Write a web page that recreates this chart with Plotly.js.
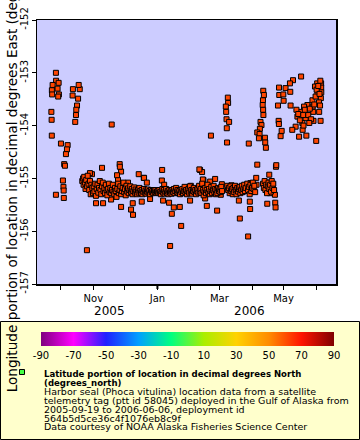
<!DOCTYPE html>
<html><head><meta charset="utf-8">
<script src="https://cdn.plot.ly/plotly-3.0.1.min.js"></script>
<style>html,body{margin:0;padding:0;background:#fff}#chart{width:360px;height:440px}</style>
</head><body><div id="chart"></div>
<script>
// ---- tick labels ----
const monthTicks = ['2005-10-01','2005-11-01','2005-12-01','2006-01-01','2006-02-01','2006-03-01','2006-04-01','2006-05-01','2006-06-01'];
const monthLabels = ['', 'Nov', '', 'Jan', '', 'Mar', '', 'May', ''];
const yearLabels = ['2005', '2006'];
const yearBoundary = '2006-01-01';
const lonTicks = [-152, -153, -154, -155, -156, -157];
const lonTickText = ['-152', '-153', '-154', '-155', '-156', '-157'];
const cbTicks = [-90, -70, -50, -30, -10, 10, 30, 50, 70, 90];
const cbTickText = ['-90', '-70', '-50', '-30', '-10', '10', '30', '50', '70', '90'];
const legendBold = ['Latitude portion of location in decimal degrees North', '(degrees_north)'];
const legendText = ['Harbor seal (Phoca vitulina) location data from a satellite',
  'telemetry tag (ptt id 58045) deployed in the Gulf of Alaska from',
  '2005-09-19 to 2006-06-06, deployment id',
  '564b5d5ce36c4f1076eb8c9f',
  'Data courtesy of NOAA Alaska Fisheries Science Center'];
const yTitle = 'Longitude portion of location in decimal degrees East (degrees_east)';

// ---- data: early structures (Sep-Oct 2005) ----
const earlyTimes = ['2005-09-26 10:00','2005-09-26 14:00','2005-09-29 00:00','2005-09-23 07:00','2005-09-28 00:00','2005-09-22 14:00','2005-09-22 20:00','2005-09-29 06:00','2005-09-28 14:00','2005-09-22 02:00','2005-09-22 08:00','2005-09-22 12:00','2005-09-26 10:00','2005-10-01 05:00','2005-10-07 14:00','2005-10-06 22:00','2005-10-05 23:00','2005-10-04 07:00','2005-10-05 00:00','2005-10-03 02:00','2005-10-03 14:00','2005-10-03 19:00','2005-10-03 22:00','2005-10-12 14:00','2005-10-19 02:00','2005-10-18 02:00','2005-10-12 07:00','2005-10-17 12:00','2005-10-16 12:00','2005-10-15 19:00','2005-10-15 12:00','2005-10-14 19:00','2005-10-25 22:00'];
const earlyLon = [-153.00,-153.15,-153.19,-153.23,-153.30,-153.33,-153.41,-153.41,-153.45,-153.74,-153.89,-154.19,-155.31,-154.34,-154.37,-154.45,-154.54,-154.73,-154.76,-155.04,-155.16,-155.23,-155.37,-153.31,-153.31,-153.23,-153.43,-153.49,-153.62,-153.70,-153.80,-153.93,-156.36];

// ---- data: scattered fixes Nov 2005 - Mar 2006 ----
const midTimes = ['2005-11-18 12:00','2005-11-26 02:00','2005-11-09 07:00','2005-11-27 10:00','2005-11-26 06:00','2005-12-14 05:00','2005-12-19 00:00','2005-10-30 17:00','2005-10-28 19:00','2005-10-25 00:00','2005-11-03 14:00','2005-11-10 07:00','2005-11-17 22:00','2005-11-27 10:00','2005-12-06 22:00','2005-12-08 19:00','2005-12-08 12:00','2005-12-17 02:00','2005-12-04 00:00','2005-11-24 12:00','2005-11-23 14:00','2006-01-05 12:00','2006-02-10 14:00','2006-02-12 12:00','2005-12-19 07:00','2005-12-21 22:00','2006-01-05 05:00','2006-01-07 10:00','2006-02-01 19:00','2006-02-13 19:00','2006-02-20 05:00','2006-02-24 22:00','2006-03-03 07:00','2006-03-12 10:00','2006-03-18 02:00','2005-12-25 00:00','2006-01-06 10:00','2006-01-12 02:00','2006-01-16 14:00','2006-01-22 07:00','2006-01-14 17:00','2006-01-23 14:00','2006-01-13 02:00','2006-02-01 02:00','2006-02-17 00:00','2006-02-26 19:00','2006-03-02 07:00','2006-03-19 12:00','2006-03-20 10:00','2006-02-15 10:00','2006-02-09 22:00','2006-02-13 05:00','2006-02-20 22:00','2006-03-09 00:00','2006-03-09 06:00','2006-03-07 02:00','2006-03-07 10:00','2006-03-07 18:00','2006-03-10 05:00','2006-03-08 00:00','2006-03-08 06:00'];
const midLon = [-153.98,-154.73,-154.80,-154.87,-154.78,-154.92,-154.99,-154.92,-154.90,-155.02,-155.47,-155.47,-155.40,-155.54,-155.59,-155.69,-155.47,-155.44,-155.08,-155.03,-154.94,-154.84,-154.84,-154.88,-154.99,-155.08,-155.04,-155.12,-155.14,-155.03,-155.06,-155.01,-155.11,-155.13,-155.19,-155.39,-155.42,-155.46,-155.55,-155.54,-155.67,-155.90,-156.28,-155.42,-155.52,-155.61,-155.31,-155.42,-155.76,-155.38,-154.83,-155.02,-154.19,-153.47,-153.57,-153.64,-153.74,-153.88,-153.93,-154.05,-154.32];

// ---- data: spring fixes (Mar-Apr 2006) ----
const springTimes = ['2006-04-06 00:00','2006-04-23 19:00','2006-04-17 10:00','2006-04-05 00:00','2006-04-05 08:00','2006-03-30 12:00','2006-03-27 07:00','2006-03-30 18:00','2006-03-29 22:00','2006-03-30 05:00','2006-04-14 22:00','2006-04-20 22:00','2006-04-22 19:00','2006-04-18 00:00','2006-04-15 12:00','2006-04-23 02:00','2006-04-23 10:00','2006-03-28 07:00','2006-04-24 02:00','2006-03-28 22:00','2006-04-11 17:00','2006-04-12 07:00','2006-04-11 10:00','2006-04-11 04:00','2006-04-11 14:00','2006-04-11 20:00','2006-04-09 02:00','2006-04-10 00:00','2006-04-08 12:00','2006-04-06 00:00','2006-04-08 05:00','2006-04-13 07:00','2006-04-07 14:00','2006-04-13 14:00','2006-04-14 05:00'];
const springLon = [-154.74,-154.78,-154.93,-154.99,-155.12,-155.09,-155.16,-155.26,-155.44,-155.58,-155.08,-155.11,-155.31,-155.28,-155.48,-155.46,-155.55,-156.10,-154.75,-154.34,-153.34,-153.42,-153.52,-153.61,-153.70,-153.80,-153.93,-153.99,-154.06,-154.13,-154.16,-154.23,-154.24,-154.32,-154.42];

// ---- data: late fixes (Apr-Jun 2006) ----
const lateTimes = ['2006-05-17 17:00','2006-05-10 00:00','2006-05-07 02:00','2006-04-26 17:00','2006-05-02 22:00','2006-05-07 10:00','2006-04-26 22:00','2006-04-30 19:00','2006-05-01 02:00','2006-04-25 17:00','2006-05-07 17:00','2006-04-26 08:00','2006-04-26 14:00','2006-04-29 05:00','2006-04-28 05:00','2006-06-02 00:00','2006-06-05 18:00','2006-06-05 20:00','2006-05-30 22:00','2006-06-02 06:00','2006-06-05 22:00','2006-06-05 12:00','2006-06-03 17:00','2006-05-28 12:00','2006-05-23 17:00','2006-05-28 18:00','2006-06-03 22:00','2006-05-29 05:00','2006-06-05 06:00','2006-05-29 12:00','2006-05-20 12:00','2006-05-17 07:00','2006-05-22 00:00','2006-05-18 22:00','2006-05-12 12:00','2006-05-19 04:00','2006-05-15 19:00','2006-05-22 17:00','2006-06-01 02:00','2006-05-09 07:00','2006-05-14 05:00','2006-05-13 06:00','2006-05-15 00:00','2006-05-16 12:00','2006-05-19 18:00','2006-05-21 06:00','2006-05-24 12:00','2006-05-26 00:00','2006-05-27 06:00','2006-05-30 06:00','2006-05-31 12:00','2006-06-01 12:00','2006-06-03 00:00','2006-06-04 06:00','2006-06-05 00:00','2006-06-04 18:00','2006-05-25 12:00','2006-05-20 00:00'];
const lateLon = [-153.07,-153.14,-153.20,-153.28,-153.29,-153.36,-153.42,-153.41,-153.53,-153.62,-153.62,-153.91,-153.97,-154.10,-154.20,-153.20,-153.20,-153.28,-153.26,-153.37,-153.37,-153.48,-153.56,-153.52,-153.61,-153.64,-153.74,-153.74,-153.91,-153.91,-153.64,-153.74,-153.86,-153.95,-154.02,-154.08,-154.21,-154.19,-154.29,-154.08,-153.83,-153.70,-153.78,-153.90,-153.80,-153.70,-153.80,-153.68,-153.88,-153.60,-153.45,-153.32,-153.25,-153.40,-153.15,-153.62,-153.95,-154.00];

// ---- data: dense winter band ----
const bandTimes = ['2005-10-21 12:00','2005-10-22 06:00','2005-10-22 18:00','2005-10-23 08:00','2005-10-24 00:00','2005-10-24 14:00','2005-10-25 06:00','2005-10-26 02:00','2005-10-26 16:00','2005-10-27 10:00','2005-10-28 02:00','2005-10-28 20:00','2005-10-29 12:00','2005-10-30 04:00','2005-10-31 00:00','2005-10-31 16:00',
'2005-11-01 10:00','2005-11-02 02:00','2005-11-02 20:00','2005-11-03 12:00','2005-11-04 06:00','2005-11-05 00:00','2005-11-05 18:00','2005-11-06 10:00','2005-11-07 04:00','2005-11-07 20:00','2005-11-08 14:00','2005-11-09 06:00','2005-11-10 00:00','2005-11-10 18:00','2005-11-11 12:00','2005-11-12 04:00','2005-11-12 22:00','2005-11-13 16:00','2005-11-14 08:00','2005-11-15 02:00','2005-11-15 20:00','2005-11-16 12:00','2005-11-17 06:00','2005-11-18 00:00','2005-11-18 18:00','2005-11-19 12:00','2005-11-20 04:00','2005-11-20 22:00','2005-11-21 16:00','2005-11-22 08:00','2005-11-23 02:00','2005-11-23 20:00','2005-11-24 14:00','2005-11-25 06:00','2005-11-26 00:00','2005-11-26 18:00','2005-11-27 12:00','2005-11-28 04:00','2005-11-28 22:00','2005-11-29 16:00','2005-11-30 08:00',
'2005-12-01 02:00','2005-12-01 20:00','2005-12-02 14:00','2005-12-03 06:00','2005-12-04 00:00','2005-12-04 18:00','2005-12-05 12:00','2005-12-06 04:00','2005-12-06 22:00','2005-12-07 16:00','2005-12-08 08:00','2005-12-09 02:00','2005-12-09 20:00','2005-12-10 14:00','2005-12-11 06:00','2005-12-12 00:00','2005-12-12 18:00','2005-12-13 12:00','2005-12-14 04:00','2005-12-14 22:00','2005-12-15 16:00','2005-12-16 08:00','2005-12-17 02:00','2005-12-17 20:00','2005-12-18 14:00','2005-12-19 06:00','2005-12-20 00:00','2005-12-20 18:00','2005-12-21 12:00','2005-12-22 04:00','2005-12-22 22:00','2005-12-23 16:00','2005-12-24 08:00','2005-12-25 02:00','2005-12-25 20:00','2005-12-26 14:00','2005-12-27 06:00','2005-12-28 00:00','2005-12-28 18:00','2005-12-29 12:00','2005-12-30 04:00','2005-12-30 22:00','2005-12-31 16:00',
'2006-01-01 08:00','2006-01-02 02:00','2006-01-02 20:00','2006-01-03 14:00','2006-01-04 06:00','2006-01-05 00:00','2006-01-05 18:00','2006-01-06 12:00','2006-01-07 04:00','2006-01-07 22:00','2006-01-08 16:00','2006-01-09 08:00','2006-01-10 02:00','2006-01-10 20:00','2006-01-11 14:00','2006-01-12 06:00','2006-01-13 00:00','2006-01-13 18:00','2006-01-14 12:00','2006-01-15 04:00','2006-01-15 22:00','2006-01-16 16:00','2006-01-17 08:00','2006-01-18 02:00','2006-01-18 20:00','2006-01-19 14:00','2006-01-20 06:00','2006-01-21 00:00','2006-01-21 18:00','2006-01-22 12:00','2006-01-23 04:00','2006-01-23 22:00','2006-01-24 16:00','2006-01-25 08:00','2006-01-26 02:00','2006-01-26 20:00','2006-01-27 14:00','2006-01-28 06:00','2006-01-29 00:00','2006-01-29 18:00','2006-01-30 12:00','2006-01-31 04:00','2006-01-31 22:00',
'2006-02-01 16:00','2006-02-02 08:00','2006-02-03 02:00','2006-02-03 20:00','2006-02-04 14:00','2006-02-05 06:00','2006-02-06 00:00','2006-02-06 18:00','2006-02-07 12:00','2006-02-08 04:00','2006-02-08 22:00','2006-02-09 16:00','2006-02-10 08:00','2006-02-11 02:00','2006-02-11 20:00','2006-02-12 14:00','2006-02-13 06:00','2006-02-14 00:00','2006-02-14 18:00','2006-02-15 12:00','2006-02-16 04:00','2006-02-16 22:00','2006-02-17 16:00','2006-02-18 08:00','2006-02-19 02:00','2006-02-19 20:00','2006-02-20 14:00','2006-02-21 06:00','2006-02-22 00:00','2006-02-22 18:00','2006-02-23 12:00','2006-02-24 04:00','2006-02-24 22:00','2006-02-25 16:00','2006-02-26 08:00','2006-02-27 02:00','2006-02-27 20:00','2006-02-28 14:00',
'2006-03-01 06:00','2006-03-02 00:00','2006-03-02 18:00','2006-03-03 12:00','2006-03-08 12:00','2006-03-09 06:00','2006-03-10 00:00','2006-03-10 18:00','2006-03-11 12:00','2006-03-12 04:00','2006-03-12 22:00','2006-03-13 16:00','2006-03-14 08:00','2006-03-15 02:00','2006-03-15 20:00','2006-03-16 14:00','2006-03-17 06:00','2006-03-18 00:00','2006-03-18 18:00','2006-03-19 12:00','2006-03-20 04:00','2006-03-20 22:00','2006-03-21 16:00','2006-03-22 08:00','2006-03-23 02:00','2006-03-23 20:00','2006-03-24 14:00','2006-03-25 06:00','2006-03-26 00:00','2006-03-27 12:00','2006-03-28 06:00','2006-03-29 00:00','2006-03-29 18:00','2006-03-30 12:00','2006-03-31 06:00',
'2006-04-01 00:00','2006-04-01 18:00','2006-04-02 12:00','2006-04-03 06:00','2006-04-04 00:00','2006-04-11 12:00','2006-04-12 06:00','2006-04-13 00:00','2006-04-13 18:00','2006-04-14 12:00','2006-04-15 06:00','2006-04-16 00:00','2006-04-16 18:00','2006-04-17 12:00','2006-04-18 06:00','2006-04-19 00:00','2006-04-19 18:00','2006-04-20 12:00','2006-04-21 06:00','2006-04-22 00:00'];
const bandLon = [-155.05,-155.00,-155.12,-154.97,-155.08,-155.20,-155.03,-155.15,-154.95,-155.10,-155.22,-155.05,-155.30,-155.12,-155.18,-155.28,
-155.15,-155.25,-155.10,-155.33,-155.20,-155.12,-155.27,-155.18,-155.05,-155.22,-155.30,-155.15,-155.08,-155.24,-155.18,-155.28,-155.12,-155.22,-155.32,-155.20,-155.10,-155.26,-155.18,-155.28,-155.22,-155.12,-155.25,-155.30,-155.18,-155.24,-155.35,-155.20,-155.10,-155.28,-155.22,-155.15,-155.30,-155.24,-155.18,-155.08,-155.26,
-155.20,-155.32,-155.14,-155.25,-155.19,-155.28,-155.22,-155.15,-155.26,-155.20,-155.30,-155.24,-155.17,-155.27,-155.21,-155.25,-155.30,-155.22,-155.27,-155.18,-155.24,-155.28,-155.22,-155.30,-155.25,-155.20,-155.27,-155.23,-155.29,-155.25,-155.21,-155.27,-155.24,-155.30,-155.22,-155.26,-155.24,-155.28,-155.23,-155.26,-155.22,-155.27,-155.25,
-155.24,-155.28,-155.22,-155.26,-155.30,-155.24,-155.20,-155.27,-155.22,-155.29,-155.25,-155.20,-155.28,-155.24,-155.30,-155.22,-155.27,-155.24,-155.29,-155.22,-155.26,-155.20,-155.28,-155.24,-155.18,-155.26,-155.22,-155.28,-155.24,-155.30,-155.22,-155.26,-155.20,-155.28,-155.24,-155.16,-155.26,-155.22,-155.30,-155.24,-155.20,-155.27,-155.15,
-155.25,-155.22,-155.29,-155.24,-155.18,-155.26,-155.22,-155.30,-155.24,-155.20,-155.27,-155.14,-155.25,-155.20,-155.28,-155.10,-155.22,-155.32,-155.25,-155.18,-155.28,-155.22,-155.12,-155.26,-155.20,-155.30,-155.24,-155.16,-155.28,-155.22,-155.14,-155.26,-155.20,-155.30,-155.22,-155.28,-155.18,-155.24,
-155.20,-155.26,-155.16,-155.24,-155.14,-155.22,-155.18,-155.28,-155.15,-155.24,-155.20,-155.30,-155.18,-155.26,-155.14,-155.22,-155.30,-155.18,-155.25,-155.20,-155.16,-155.28,-155.22,-155.14,-155.26,-155.20,-155.12,-155.24,-155.18,-155.10,-155.22,-155.16,-155.30,-155.12,-155.24,
-155.18,-155.08,-155.20,-155.14,-155.26,-155.10,-155.18,-155.05,-155.22,-155.12,-155.28,-155.15,-155.08,-155.20,-155.12,-155.25,-155.05,-155.18,-155.10,-155.22];

// ---- colour scale (latitude colour bar) ----
const cbStops = [0, 0.111, 0.222, 0.333, 0.444, 0.556, 0.667, 0.778, 0.889, 1];
const cbColors = ['#7f007f', '#ff00ff', '#2020ff', '#00a0ff', '#00ff80', '#aaee00', '#ffd200', '#ff8c00', '#ff1400', '#800000'];

// ---- layout helpers (pixel -> paper) ----
const L = 37, T = 20, W = 299, H = 264;
const px = x => (x - L) / W;
const py = y => (T + H - y) / H;
const FONT = 'DejaVu Sans';

const times = [].concat(earlyTimes, midTimes, springTimes, lateTimes, bandTimes);
const lons = [].concat(earlyLon, midLon, springLon, lateLon, bandLon);

const traces = [
  {
    type: 'scatter', mode: 'markers', x: times, y: lons,
    marker: { symbol: 'square', size: 5, color: '#ff4500', line: { color: '#000', width: 1 } },
    showlegend: false, hoverinfo: 'x+y'
  },
  {
    // carrier for the latitude colour bar only (transparent)
    type: 'scatter', mode: 'markers', x: times.slice(0, 2), y: lons.slice(0, 2), showlegend: false, hoverinfo: 'skip',
    marker: {
      color: [-90, 90], cmin: -90, cmax: 90, opacity: 0,
      colorscale: cbStops.map((s, i) => [s, cbColors[i]]),
      showscale: true,
      colorbar: {
        orientation: 'h', thickness: 14, thicknessmode: 'pixels',
        len: 293, lenmode: 'pixels', x: px(187.5), xanchor: 'center',
        y: py(332), yanchor: 'top', xpad: 0, ypad: 0, outlinewidth: 0,
        tickmode: 'array', tickvals: cbTicks, ticktext: cbTickText, ticks: '',
        tickfont: { family: FONT, size: 10, color: '#000' }
      }
    }
  }
];

const annotations = [];
yearLabels.forEach((t, i) => annotations.push({
  xref: 'paper', yref: 'paper', x: px([109, 249][i]), y: py(310.5), text: t, showarrow: false,
  xanchor: 'center', yanchor: 'middle', font: { family: FONT, size: 12, color: '#000' }
}));
const lineY = [373, 382, 391, 400, 409, 418, 427];
legendBold.forEach((t, i) => annotations.push({
  xref: 'paper', yref: 'paper', x: px(42), y: py(lineY[i]), text: '<b>' + t + '</b>', showarrow: false,
  xanchor: 'left', yanchor: 'middle', font: { family: 'DejaVu Sans Condensed, DejaVu Sans', size: 9.5, color: '#000' }
}));
legendText.forEach((t, i) => annotations.push({
  xref: 'paper', yref: 'paper', x: px(42), y: py(lineY[i + 2]), text: t, showarrow: false,
  xanchor: 'left', yanchor: 'middle', font: { family: FONT, size: 9.5, color: '#000' }
}));
// rotated y-axis title (runs past the top edge, as in the original)
annotations.push({
  xref: 'paper', yref: 'paper', x: px(12.3), y: py(158), text: yTitle, textangle: -90, showarrow: false,
  xanchor: 'center', yanchor: 'middle', font: { family: FONT, size: 13.6, color: '#000' }
});

const shapes = [
  { type: 'rect', xref: 'paper', yref: 'paper', x0: px(0.5), x1: px(359.5), y0: py(439.5), y1: py(321.5),
    fillcolor: '#ffffcc', line: { color: '#000', width: 1 }, layer: 'below' },
  { type: 'rect', xref: 'paper', yref: 'paper', x0: px(19.5), x1: px(24.5), y0: py(374.5), y1: py(369.5),
    fillcolor: '#44ff44', line: { color: '#000', width: 1 }, layer: 'above' },
  // heavier tick at the year boundary
  { type: 'line', xref: 'x', yref: 'paper', x0: yearBoundary, x1: yearBoundary, y0: py(284), y1: py(289),
    line: { color: '#000', width: 2 } }
];

const layout = {
  width: 360, height: 440,
  margin: { l: L, r: 360 - L - W, t: T, b: 440 - T - H, pad: 0 },
  paper_bgcolor: '#ffffff', plot_bgcolor: '#ccccff',
  font: { family: FONT, size: 10, color: '#000' },
  showlegend: false,
  xaxis: {
    type: 'date', range: ['2005-09-08 10:00', '2006-06-19 22:00'],
    tickmode: 'array', tickvals: monthTicks, ticktext: monthLabels,
    ticks: 'outside', ticklen: 4, tickwidth: 1, tickcolor: '#000',
    showgrid: false, zeroline: false, showline: true, linecolor: '#000', linewidth: 1.5, mirror: true,
    tickfont: { family: FONT, size: 10, color: '#000' }, automargin: false
  },
  yaxis: {
    range: [-157, -152], tickmode: 'array', tickvals: lonTicks, ticktext: lonTickText, tickangle: -90,
    ticks: 'outside', ticklen: 4, tickwidth: 1, tickcolor: '#000',
    showgrid: false, zeroline: false, showline: true, linecolor: '#000', linewidth: 1.5, mirror: true,
    tickfont: { family: FONT, size: 10, color: '#000' }, automargin: false
  },
  annotations: annotations,
  shapes: shapes
};

Plotly.newPlot('chart', traces, layout, { staticPlot: true, displayModeBar: false });
</script>
</body></html>
